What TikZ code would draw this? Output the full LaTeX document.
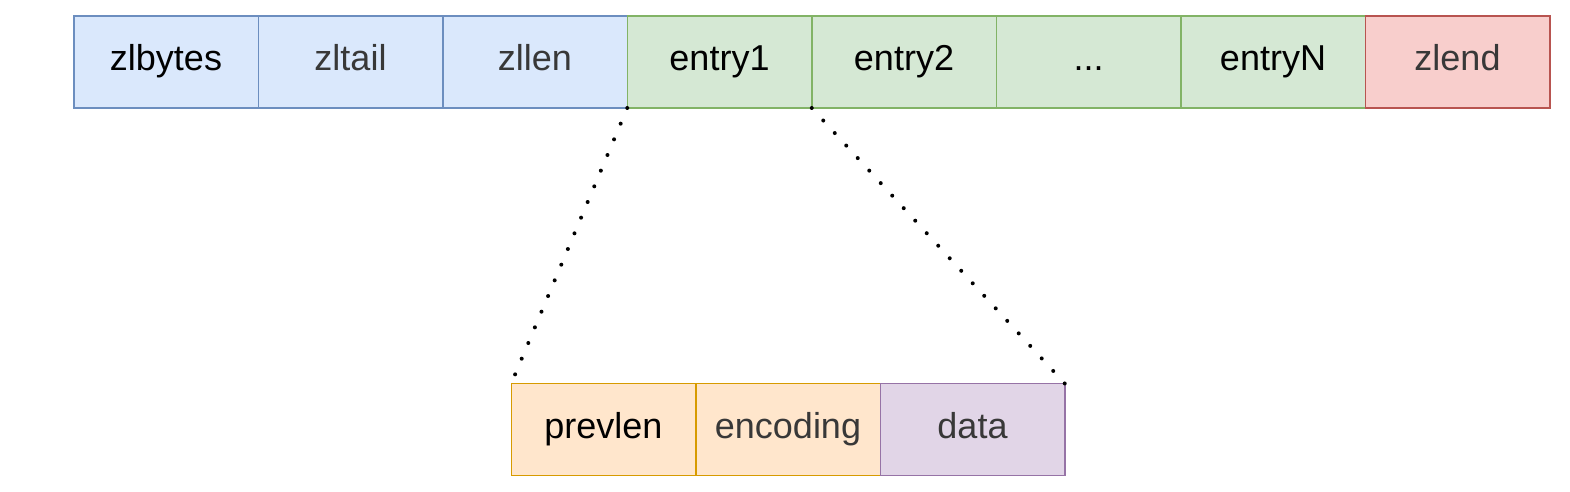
\documentclass[tikz,border=0pt]{standalone}
\usepackage{fontspec}
\setmainfont{Liberation Sans}
\usetikzlibrary{positioning}
\definecolor{bluefill}{HTML}{DAE8FC}
\definecolor{blueline}{HTML}{6C8EBF}
\definecolor{greenfill}{HTML}{D5E8D4}
\definecolor{greenline}{HTML}{82B366}
\definecolor{redfill}{HTML}{F8CECC}
\definecolor{redline}{HTML}{B85450}
\definecolor{orangefill}{HTML}{FFE6CC}
\definecolor{orangeline}{HTML}{D79B00}
\definecolor{purplefill}{HTML}{E1D5E7}
\definecolor{purpleline}{HTML}{9673A6}

\begin{document}
\begin{tikzpicture}[x=0.5pt, y=-0.5pt,
    cell/.style={rectangle, minimum width=92.25pt, minimum height=46pt, inner sep=0pt, outer sep=0pt,
      text height=13pt, text depth=4pt, line width=0.75pt, font=\fontsize{18}{21}\selectfont},
    bluecell/.style={cell, fill=bluefill, draw=blueline},
    greencell/.style={cell, fill=greenfill, draw=greenline},
    redcell/.style={cell, fill=redfill, draw=redline},
    orangecell/.style={cell, fill=orangefill, draw=orangeline},
    purplecell/.style={cell, fill=purplefill, draw=purpleline},
    soft/.style={text=black!78}]
    \useasboundingbox (0,0) rectangle (1570,492);

    % Ziplist row
    \node[bluecell] (zlbytes) at (166,62) {zlbytes};
    \node[bluecell, soft, right=0pt of zlbytes] (zltail) {zltail};
    \node[bluecell, soft, right=0pt of zltail] (zllen) {zllen};
    \node[greencell, right=0pt of zllen] (entry1) {entry1};
    \node[greencell, right=0pt of entry1] (entry2) {entry2};
    \node[greencell, right=0pt of entry2] (dots) {...};
    \node[greencell, right=0pt of dots] (entryN) {entryN};
    \node[redcell, soft, right=0pt of entryN] (zlend) {zlend};

    % Entry row
    \node[orangecell] (prevlen) at (603.5,429.5) {prevlen};
    \node[orangecell, soft, right=0pt of prevlen] (encoding) {encoding};
    \node[purplecell, soft, right=0pt of encoding] (data) {data};

    % Dotted zoom lines
    \draw[line width=2pt, line cap=round, dash pattern=on 0pt off 8.5pt] (entry1.south west) -- (prevlen.north west);
    \draw[line width=2pt, line cap=round, dash pattern=on 0pt off 8.5pt] (entry2.south west) -- (data.north east);
\end{tikzpicture}
\end{document}
